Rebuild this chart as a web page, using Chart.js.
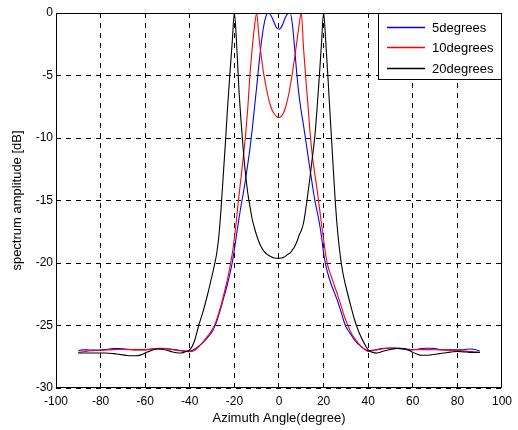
<!DOCTYPE html>
<html>
<head>
<meta charset="utf-8">
<script src="https://cdn.jsdelivr.net/npm/chart.js@4/dist/chart.umd.min.js"></script>
<style>
html,body{margin:0;padding:0;background:#fff;}
canvas{display:block;}
</style>
</head>
<body>
<canvas id="c" width="518" height="430"></canvas>
<script>
// Azimuth angles (degree)
const angles = [
-90,-88,-86,-84,-82,-80,-78,-76,-74,-72,-70,-68,-66,-64,-62,-60,-58,-56,-54,-52,-50,-48,-46,-44,-42,-40,-38,-36,-34,-32,
-30,-29,-28,-27,-26,-25,-24,-23,-22,-21,-20,-19,-18,-17,-16,-15,-14,-13,-12,-11,-10,-9,-8,-7,-6,-5,-4,-3,-2,-1,
0,1,2,3,4,5,6,7,8,9,10,11,12,13,14,15,16,17,18,19,20,21,22,23,24,25,26,27,28,29,30,
32,34,36,38,40,42,44,46,48,50,52,54,56,58,60,62,64,66,68,70,72,74,76,78,80,82,84,86,88,90
];
// spectrum amplitude [dB]
const deg5 = [
-27.0,-26.95,-26.95,-26.97,-26.97,-26.95,-26.92,-26.88,-26.85,-26.85,-26.86,-26.9,-26.93,-26.95,-26.96,-26.95,-26.9,-26.86,-26.85,-26.85,-26.88,-26.92,-26.97,-27.02,-27.05,-27.05,-26.9,-26.65,-26.35,-25.95,
-25.5,-25.15,-24.7,-24.15,-23.55,-22.9,-22.3,-21.6,-20.85,-20.0,-18.9,-17.7,-16.5,-15.4,-14.4,-13.3,-12.1,-10.8,-9.3,-7.6,-5.9,-4.1,-2.5,-1.2,-0.35,0,-0.1,-0.4,-0.85,-1.2,
-1.3,-1.15,-0.75,-0.3,-0.05,0,-0.9,-2.8,-4.9,-6.6,-7.9,-9.0,-10.2,-11.4,-12.6,-13.8,-14.9,-15.8,-16.7,-17.8,-19.2,-20.2,-20.9,-21.5,-22.0,-22.45,-22.9,-23.45,-24.0,-24.6,-25.1,
-25.65,-26.2,-26.55,-26.85,-27.02,-26.98,-26.92,-26.85,-26.82,-26.8,-26.82,-26.85,-26.9,-26.95,-26.95,-26.9,-26.85,-26.82,-26.82,-26.85,-26.92,-26.95,-26.95,-26.95,-26.95,-26.95,-26.9,-26.88,-26.92,-27.05
];
const deg10 = [
-27.15,-27.1,-27.05,-27.02,-27.0,-27.0,-26.98,-26.95,-26.93,-26.92,-26.92,-26.93,-26.93,-26.93,-26.93,-26.93,-26.9,-26.85,-26.82,-26.82,-26.85,-26.9,-26.95,-27.0,-27.05,-27.1,-27.0,-26.7,-26.3,-25.85,
-25.35,-25.0,-24.55,-24.0,-23.4,-22.7,-21.95,-21.2,-20.3,-19.3,-18.0,-16.4,-14.7,-13.1,-11.5,-9.8,-7.6,-4.9,-2.8,-1.1,0,-1.9,-3.4,-4.7,-5.7,-6.6,-7.3,-7.8,-8.1,-8.3,
-8.36,-8.28,-8.0,-7.5,-6.8,-5.9,-4.8,-3.6,-2.3,-1.0,0,-2.8,-5.2,-7.4,-9.7,-11.5,-12.8,-14.0,-15.4,-16.8,-18.1,-19.4,-20.3,-20.85,-21.35,-21.9,-22.4,-22.95,-23.5,-24.1,-24.6,
-25.45,-26.05,-26.5,-26.85,-27.08,-27.02,-26.95,-26.88,-26.82,-26.8,-26.8,-26.82,-26.86,-26.9,-26.92,-26.93,-26.93,-26.93,-26.93,-26.94,-26.95,-26.96,-26.98,-27.0,-27.0,-27.02,-27.05,-27.08,-27.12,-27.15
];
const deg20 = [
-27.2,-27.2,-27.2,-27.2,-27.2,-27.2,-27.2,-27.22,-27.25,-27.3,-27.35,-27.4,-27.42,-27.42,-27.35,-27.2,-27.05,-26.92,-26.88,-26.92,-27.0,-27.1,-27.18,-27.2,-27.1,-26.95,-26.3,-25.0,-23.85,-22.5,
-21.0,-20.2,-19.3,-17.9,-15.7,-13.0,-10.3,-7.4,-4.8,-2.4,0,-2.5,-6.0,-8.7,-11.0,-12.9,-14.4,-15.5,-16.5,-17.2,-17.8,-18.3,-18.7,-19.0,-19.2,-19.35,-19.45,-19.55,-19.6,-19.62,
-19.63,-19.6,-19.55,-19.45,-19.3,-19.2,-18.95,-18.7,-18.3,-17.8,-17.4,-16.8,-15.7,-14.4,-13.0,-11.5,-10.0,-7.8,-5.3,-2.6,0,-2.4,-5.3,-8.4,-11.4,-14.4,-16.9,-18.7,-20.1,-21.1,-21.9,
-23.3,-24.6,-25.6,-26.35,-26.95,-27.15,-27.2,-27.1,-27.0,-26.92,-26.85,-26.82,-26.85,-26.95,-27.15,-27.3,-27.38,-27.38,-27.35,-27.3,-27.25,-27.2,-27.15,-27.1,-27.08,-27.1,-27.12,-27.15,-27.15,-27.15
];
const seriesNames = ['5degrees','10degrees','20degrees'];
const seriesColors = ['#0000ff','#ff0000','#000000'];
const xTicks = [-100,-80,-60,-40,-20,0,20,40,60,80,100];
const yTicks = [-30,-25,-20,-15,-10,-5,0];

const FONT = "'Liberation Sans', Arial, Helvetica, sans-serif";

function pts(arr){ return angles.map((a,i)=>({x:a,y:arr[i]})); }

const frameLegend = {
  id:'frameLegend',
  afterDraw(chart){
    const ctx = chart.ctx, a = chart.chartArea;
    ctx.save();
    ctx.strokeStyle = '#000';
    ctx.lineWidth = 1;
    ctx.setLineDash([]);
    ctx.strokeRect(Math.round(a.left)+0.5, Math.round(a.top)+0.5, Math.round(a.right-a.left)-1, Math.round(a.bottom-a.top)-1);
    // legend box
    const w = 123, h = 66;
    const bx = Math.round(a.right) - w - 1, by = Math.round(a.top);
    ctx.fillStyle = '#fff';
    ctx.fillRect(bx, by, w, h);
    ctx.strokeStyle = '#000';
    ctx.strokeRect(bx+0.5, by+0.5, w, h);
    ctx.font = '13px ' + FONT;
    ctx.textBaseline = 'middle';
    ctx.textAlign = 'left';
    seriesNames.forEach((name,i)=>{
      const yy = Math.round(by + 13.5 + i*20.7);
      ctx.beginPath();
      ctx.strokeStyle = seriesColors[i];
      ctx.lineWidth = 1.5;
      ctx.moveTo(bx+9, yy+0.5);
      ctx.lineTo(bx+47, yy+0.5);
      ctx.stroke();
      ctx.fillStyle = '#000';
      ctx.fillText(name, bx+54, yy+1);
    });
    ctx.restore();
  }
};

new Chart(document.getElementById('c'), {
  type:'line',
  data:{
    datasets:[deg5,deg10,deg20].map((arr,i)=>({
      label:seriesNames[i],
      data:pts(arr),
      borderColor:seriesColors[i],
      backgroundColor:seriesColors[i],
      borderWidth:1.1,
      pointRadius:0,
      fill:false,
      cubicInterpolationMode:'monotone',
      order:3-i
    }))
  },
  options:{
    responsive:false,
    animation:false,
    devicePixelRatio:1,
    layout:{padding:{left:0,right:12,top:13,bottom:0}},
    plugins:{legend:{display:false},tooltip:{enabled:false}},
    scales:{
      x:{
        type:'linear', min:-100, max:100,
        afterBuildTicks(s){ s.ticks = xTicks.map(v=>({value:v})); },
        afterFit(s){ s.height = 42; },
        grid:{color:'#000',lineWidth:1,drawTicks:false},
        border:{display:false,dash:[5,5]},
        ticks:{color:'#000',font:{family:FONT,size:12},padding:6,maxRotation:0,autoSkip:false},
        title:{display:true,text:'Azimuth Angle(degree)',color:'#000',font:{family:FONT,size:13},padding:{top:0,bottom:4}}
      },
      y:{
        type:'linear', min:-30, max:0,
        afterBuildTicks(s){ s.ticks = yTicks.map(v=>({value:v})); },
        afterFit(s){ s.width = 56; },
        grid:{color:'#000',lineWidth:1,drawTicks:false},
        border:{display:false,dash:[5,5]},
        ticks:{color:'#000',font:{family:FONT,size:12},padding:3,autoSkip:false},
        title:{display:true,text:'spectrum amplitude [dB]',color:'#000',font:{family:FONT,size:13},padding:{top:10,bottom:0}}
      }
    }
  },
  plugins:[frameLegend]
});
</script>
</body>
</html>
